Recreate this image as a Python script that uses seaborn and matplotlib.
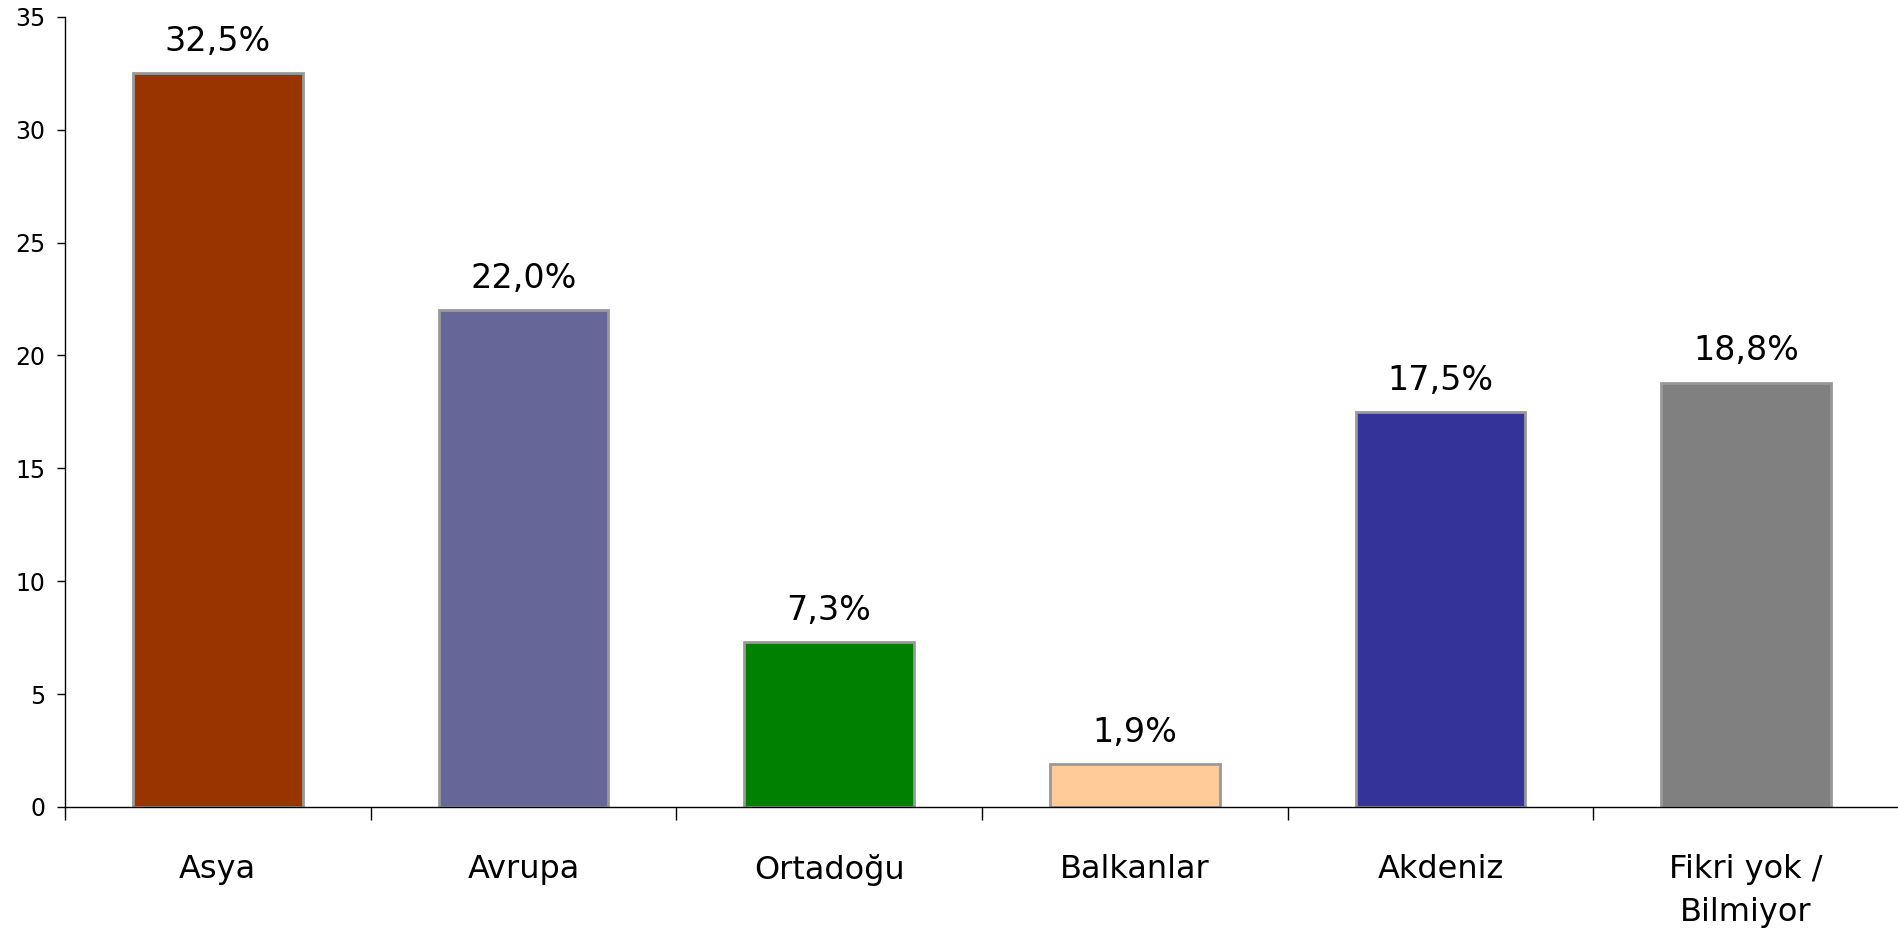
import matplotlib
matplotlib.use("Agg")
import matplotlib.pyplot as plt
import seaborn as sns
import pandas as pd

categories = ["Asya", "Avrupa", "Ortadoğu", "Balkanlar", "Akdeniz", "Fikri yok /\nBilmiyor"]
values = [32.5, 22.0, 7.3, 1.9, 17.5, 18.8]
colors = ["#993300", "#666699", "#008000", "#FFCC99", "#333399", "#808080"]
yticks = [0, 5, 10, 15, 20, 25, 30, 35]

df = pd.DataFrame({"kategori": categories, "oran": values})

sns.set_style("white")
plt.rcParams['font.family'] = ['DejaVu Sans']
plt.rcParams['text.color'] = 'black'
plt.rcParams['xtick.color'] = 'black'
plt.rcParams['ytick.color'] = 'black'

fig = plt.figure(figsize=(18.99, 9.35), dpi=100)
ax = fig.add_axes([0.0342, 0.137, 0.9658, 0.845])

sns.barplot(data=df, x="kategori", y="oran", hue="kategori", palette=colors,
            legend=False, width=0.555, edgecolor="#999999", linewidth=2,
            saturation=1, ax=ax)

for i, v in enumerate(values):
    ax.annotate(f"{v:.1f}%".replace(".", ","), (i, v), xytext=(0, 11),
                textcoords="offset points", ha="center", va="bottom", fontsize=24)

ax.set_ylim(0, 35)
ax.set_xlim(-0.5, 5.5)
ax.set_yticks(yticks)
ax.tick_params(axis="y", labelsize=17, length=6, width=1, direction="out", left=True, pad=8)

# category labels between boundary ticks
ax.set_xticks([i - 0.5 for i in range(len(categories) + 1)])
ax.set_xticklabels([])
ax.set_xticks(range(len(categories)), minor=True)
ax.set_xticklabels(categories, minor=True, fontsize=23, linespacing=1.5)
ax.tick_params(axis="x", which="major", length=9, width=1, bottom=True, direction="out")
ax.tick_params(axis="x", which="minor", length=0, pad=34)

ax.set_xlabel("")
ax.set_ylabel("")
for s in ["top", "right"]:
    ax.spines[s].set_visible(False)
for s in ["left", "bottom"]:
    ax.spines[s].set_color("black")
    ax.spines[s].set_linewidth(1)

fig.savefig("out.png", dpi=100)
